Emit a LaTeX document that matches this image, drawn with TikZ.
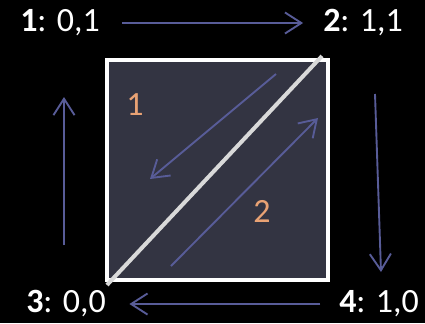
\documentclass[tikz,border=0pt]{standalone}
\usepackage{fontspec}
\setmainfont{Carlito}
\usetikzlibrary{arrows.meta,positioning}
\definecolor{Board}{RGB}{51,52,66}
\definecolor{Flow}{RGB}{88,92,152}
\definecolor{Tri}{RGB}{233,162,116}
\definecolor{Split}{RGB}{217,217,217}

\begin{document}
\begin{tikzpicture}[x=0.03cm, y=-0.03cm, every node/.style={font=\fontsize{29}{31}\selectfont},
  lbl/.style={text=white,inner sep=0pt},
  num/.style={text=Tri,inner sep=0pt},
  arr/.style={draw=Flow,line width=1.6pt,-{Straight Barb[length=14pt,width=18pt]}}]
\fill[black] (0,0) rectangle (425,323);
\useasboundingbox (0,0) rectangle (425,323);
% square and its diagonal
\coordinate (sw) at (107,280);
\coordinate (ne) at (328,60);
\draw[draw=white,fill=Board,line width=2.6pt] (sw) rectangle (ne);
\coordinate (d0) at (107,285);
\coordinate (d1) at (322,56);
\draw[Split,line width=3.4pt] (d0) -- (d1);
% corner labels
\node[lbl] (p1) at (60,23) {\textbf{1}: 0,1};
\node[lbl] (p2) at (363,23) {\textbf{2}: 1,1};
\node[lbl] (p3) at (66,304) {\textbf{3}: 0,0};
\node[lbl] (p4) at (379,304) {\textbf{4}: 1,0};
\node[num] (t1) at (135,105) {1};
\node[num] (t2) at (262,211) {2};
% arrows
\coordinate (la) at (64,245);
\coordinate (lb) at (64,97);
\coordinate (ra) at (375,94);
\coordinate (rb) at (381,272);
\coordinate (ia) at (276,74);
\coordinate (ib) at (150,179);
\coordinate (ja) at (171,266);
\coordinate (jb) at (318,118);
\draw[arr,shorten <=19pt,shorten >=17pt] (p1.east) -- (p2.west);
\draw[arr,shorten <=16pt,shorten >=20pt] (p4.west) -- (p3.east);
\draw[arr] (la) -- (lb);
\draw[arr] (ra) -- (rb);
\draw[arr] (ia) -- (ib);
\draw[arr] (ja) -- (jb);
\end{tikzpicture}
\end{document}
